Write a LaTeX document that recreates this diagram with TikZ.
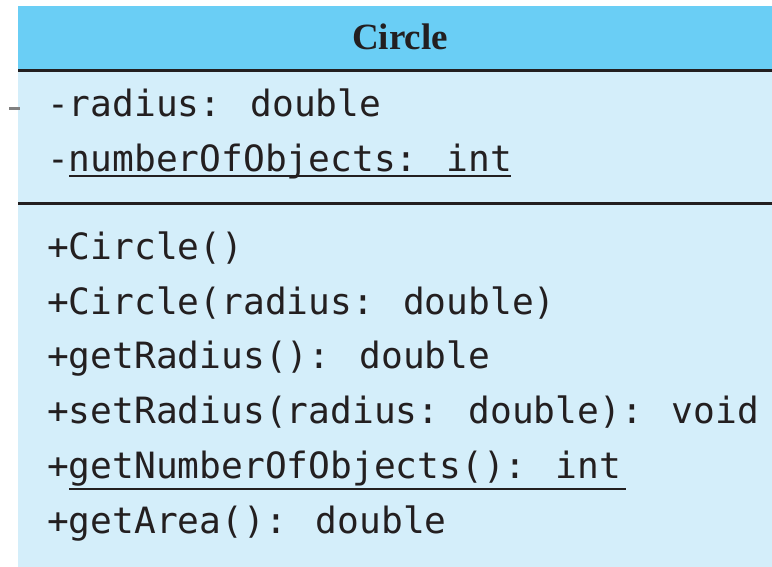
\documentclass[tikz,border=0pt]{standalone}
\usepackage{fontspec}
\setmainfont{Liberation Serif}
\newfontfamily\codefont{DejaVu Sans Mono}
\begin{document}
\begin{tikzpicture}[x=1pt,y=-1pt,
  member/.style={anchor=base west,inner sep=0pt,text=ink,
    font=\codefont\fontsize{36.2}{44}\selectfont},
  title/.style={anchor=base,inner sep=0pt,text=ink,
    font=\bfseries\fontsize{37}{44}\selectfont},
  rule/.style={draw=ink,line width=3pt},
  uline/.style={draw=ink,line width=2pt}]
  \definecolor{ink}{HTML}{231F20}
  \definecolor{headblue}{HTML}{6ACEF5}
  \definecolor{bodyblue}{HTML}{D4EEFA}
  \useasboundingbox (0,0) rectangle (772,567);
  % class box
  \fill[bodyblue] (18,6) rectangle (772,567);
  \fill[headblue] (18,6) rectangle (772,70);
  \draw[rule] (18,70.5) -- (772,70.5);
  \draw[rule] (18,203.5) -- (772,203.5);
  % stub of an incoming line at the left edge
  \coordinate (stubA) at (9,108.5);
  \coordinate (stubB) at (20,108.5);
  \draw[draw=gray,line width=3pt] (stubA) -- (stubB);
  % class name
  \node[title] (name) at (400,50) {Circle};
  % attributes
  \node[member] (a1) at (47,117) {-radius: double};
  \node[member] (a2) at (47,172) {-numberOfObjects: int};
  \draw[uline] (69,176.5) -- (511,176.5);
  % operations
  \node[member] (m1) at (47,260) {+Circle()};
  \node[member] (m2) at (47,314) {+Circle(radius: double)};
  \node[member] (m3) at (47,368) {+getRadius(): double};
  \node[member] (m4) at (47,423) {+setRadius(radius: double): void};
  \node[member] (m5) at (47,478) {+getNumberOfObjects(): int};
  \draw[uline] (69,489) -- (626,489);
  \node[member] (m6) at (47,533) {+getArea(): double};
\end{tikzpicture}
\end{document}
